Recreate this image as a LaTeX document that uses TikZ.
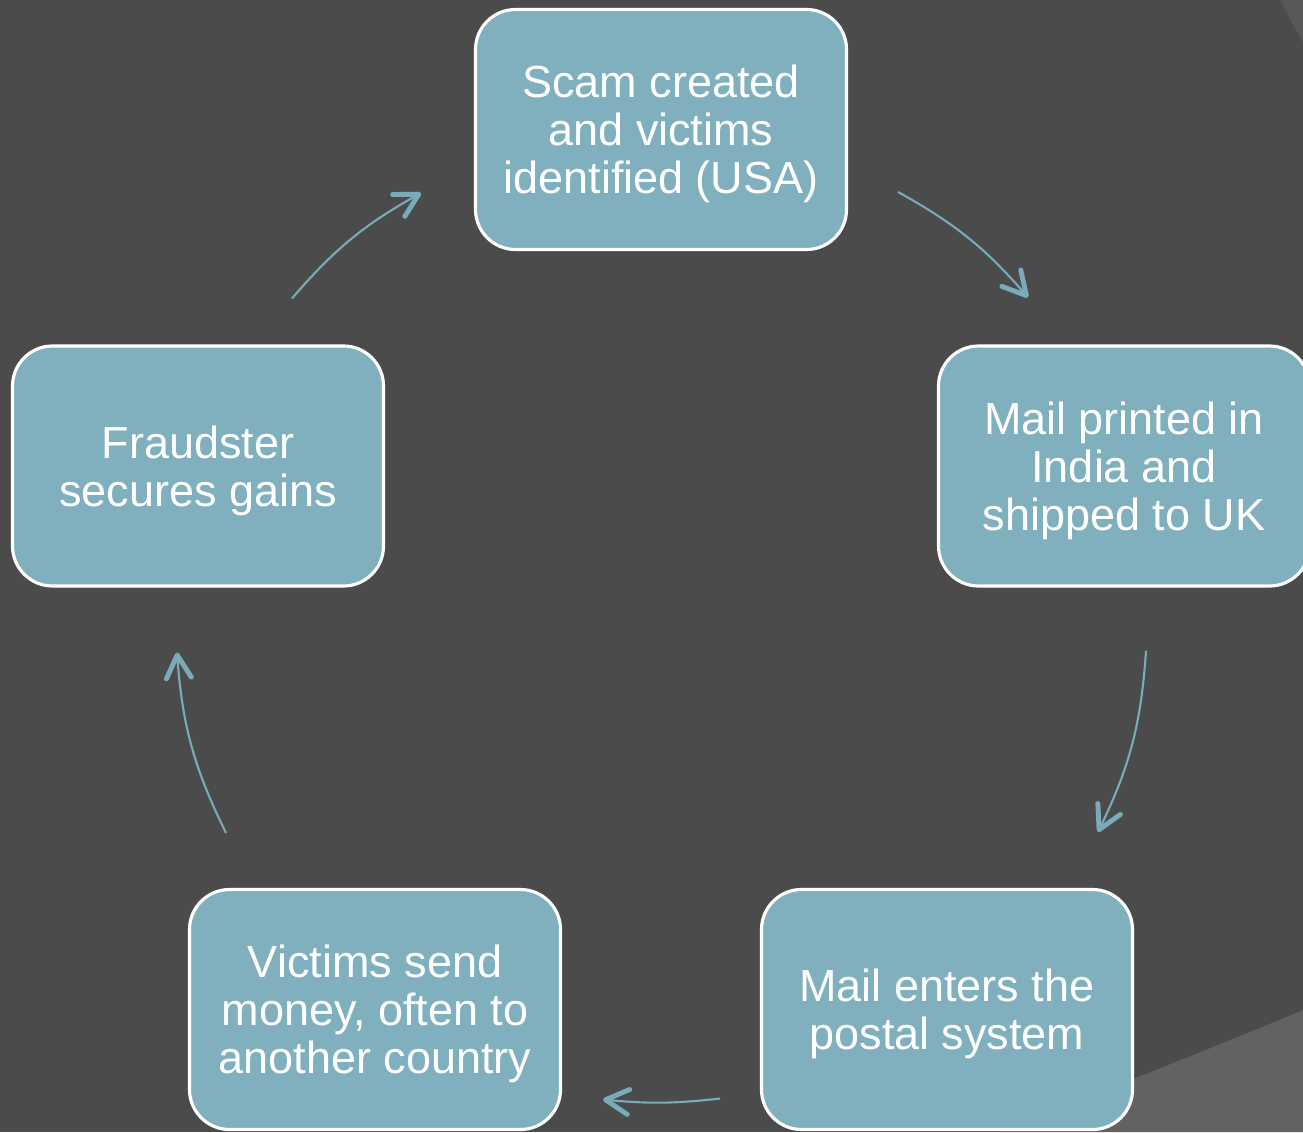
\documentclass[tikz,border=0pt]{standalone}
\usepackage{fontspec}
\setmainfont{Liberation Sans}
\usepackage{tikz}
\usetikzlibrary{arrows.meta}
\usetikzlibrary{calc}
\definecolor{slide}{HTML}{4B4B4B}
\definecolor{slidelight}{HTML}{626262}
\definecolor{slidecorner}{HTML}{585858}
\definecolor{teal}{HTML}{80AFBD}
\definecolor{tealline}{HTML}{7AABB9}
\tikzstyle{stage}=[rectangle,rounded corners=4mm,draw=white,line width=0.9pt,fill=teal,text=white,minimum width=3.71cm,minimum height=2.4cm,align=center,inner sep=0mm,font=\fontsize{12.8}{13.7}\selectfont,text depth=-0.4pt]
\tikzstyle{flow}=[draw=tealline,line width=0.6pt,-{Straight Barb[length=2.3mm,width=2.5mm,line width=1.4pt,round]}]

\begin{document}
\begin{tikzpicture}
      % background
      \fill[slide] (0,0) rectangle (13.03,-11.32);
      \fill[slidelight] (10.0,-11.32) .. controls (11.0,-10.92) and (12.2,-10.45) .. (13.03,-10.10) -- (13.03,-11.32) -- cycle;
      \fill[slidecorner] (12.80,0) .. controls (12.88,-0.16) and (12.96,-0.30) .. (13.03,-0.42) -- (13.03,0) -- cycle;
      \useasboundingbox (0,0) rectangle (13.03,-11.32);
      % stages
      \node[stage] at (6.61,-1.295) (scam) {Scam created\\and victims\\identified (USA)};
      \node[stage] at (11.24,-4.66) (mail) {Mail printed in\\India and\\shipped to UK};
      \node[stage] at (9.47,-10.095) (post) {Mail enters the\\postal system};
      \node[stage] at (3.75,-10.095) (victims) {Victims send\\money, often to\\another country};
      \node[stage] at (1.98,-4.66) (gains) {Fraudster\\secures gains};
      % cycle
      \draw[flow] ($(scam.east)+(0.5,-0.625)$) to[bend left=10] ($(mail.north)+(-0.96,0.47)$);
      \draw[flow] ($(mail.south)+(0.22,-0.63)$) to[bend left=11] ($(post.north)+(1.51,0.56)$);
      \draw[flow] ($(post.west)+(-0.40,-0.89)$) to[bend left=6] ($(victims.east)+(0.41,-0.90)$);
      \draw[flow] ($(victims.north)+(-1.49,0.55)$) to[bend left=11] ($(gains.south)+(-0.21,-0.65)$);
      \draw[flow] ($(gains.north)+(0.94,0.46)$) to[bend left=10] ($(scam.west)+(-0.53,-0.635)$);
\end{tikzpicture}
\end{document}
